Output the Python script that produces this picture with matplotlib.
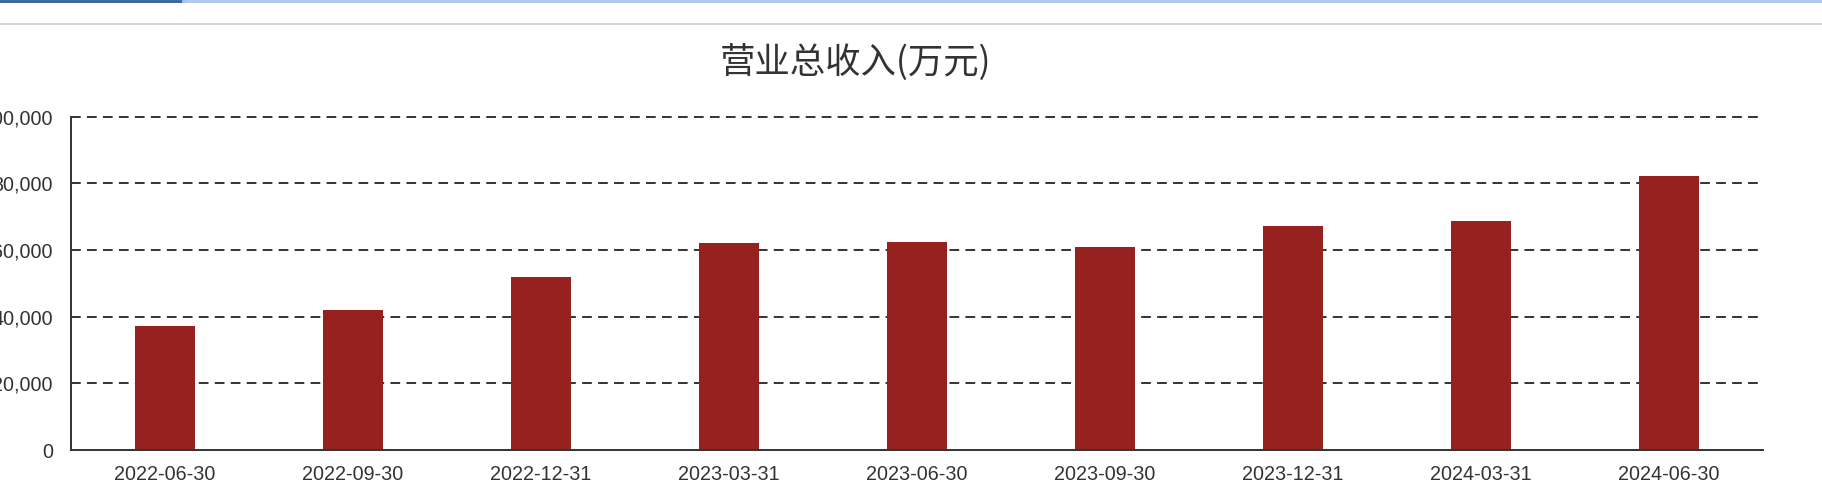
import matplotlib
matplotlib.use('Agg')
import matplotlib.pyplot as plt
from matplotlib.lines import Line2D
from matplotlib.ticker import FuncFormatter

plt.rcParams['font.family'] = ['Liberation Sans', 'Noto Sans CJK SC', 'DejaVu Sans']
plt.rcParams['lines.scale_dashes'] = False

# 报告期 / 营业总收入(万元)
dates = ['2022-06-30', '2022-09-30', '2022-12-31', '2023-03-31', '2023-06-30',
         '2023-09-30', '2023-12-31', '2024-03-31', '2024-06-30']
revenue = [37200, 42000, 52000, 62000, 62300, 61000, 67300, 68700, 82300]
y_ticks = [0, 20000, 40000, 60000, 80000, 100000]

W, H = 1822, 504
fig = plt.figure(figsize=(W / 100, H / 100), dpi=100)

# top strip of the page
fig.add_artist(Line2D([0, 183 / W], [1 - 1 / H, 1 - 1 / H], color='#2f5f95', lw=2))
fig.add_artist(Line2D([183 / W, 1], [1 - 1 / H, 1 - 1 / H], color='#a9c8ea', lw=2))
fig.add_artist(Line2D([0, 1], [1 - 24 / H, 1 - 24 / H], color='#d6d6d6', lw=1.5))

ax = fig.add_axes([71 / W, 54 / H, (1763 - 71) / W, (450 - 116.7) / H])
x = range(len(dates))
ax.bar(x, revenue, width=0.32, color='#96211e', zorder=3)
ax.set_xlim(-0.5, len(dates) - 0.5)
ax.set_ylim(0, 100000)
ax.set_yticks(y_ticks)
ax.yaxis.set_major_formatter(FuncFormatter(lambda v, p: f'{int(v):,}'))
ax.set_xticks(list(x))
ax.set_xticklabels(dates)

for v in y_ticks[1:]:
    ax.axhline(v, xmax=0.997, color='#333333', lw=1.4, dashes=(7, 4.5), zorder=1, clip_on=False)

for s in ['top', 'right']:
    ax.spines[s].set_visible(False)
for s in ['left', 'bottom']:
    ax.spines[s].set_color('#333333')
    ax.spines[s].set_linewidth(1.4)
ax.spines['bottom'].set_zorder(4)

ax.tick_params(axis='both', length=0, labelsize=14.2, labelcolor='#333333')
ax.tick_params(axis='y', pad=13)
ax.tick_params(axis='x', pad=11)

fig.text(855 / W, 1 - 63 / H, '营业总收入(万元)', ha='center', va='center',
         fontsize=25.5, color='#333333', family=['Noto Sans CJK SC', 'DejaVu Sans'])

fig.savefig('out.png', dpi=100)
